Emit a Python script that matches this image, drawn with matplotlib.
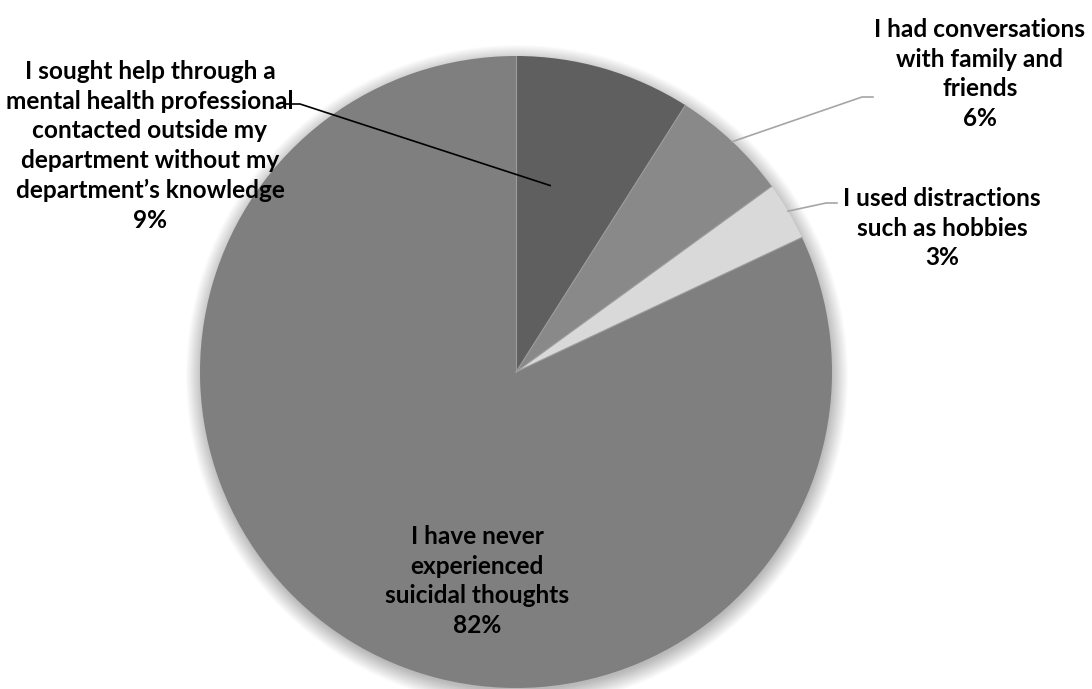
import numpy as np
import matplotlib.pyplot as plt
from matplotlib.patches import Circle

# Survey responses: coping with suicidal thoughts
labels = [
    "I sought help through a\nmental health professional\ncontacted outside my\ndepartment without my\ndepartment\u2019s knowledge",
    "I had conversations\nwith family and\nfriends",
    "I used distractions\nsuch as hobbies",
    "I have never\nexperienced\nsuicidal thoughts",
]
shares = [9, 6, 3, 82]
colors = ["#5f5f5f", "#898989", "#d9d9d9", "#7f7f7f"]

W, H = 1092, 689
cx, cy, R = 516, H - 372, 316

fig = plt.figure(figsize=(W / 100, H / 100), dpi=100)
ax = fig.add_axes([0, 0, 1, 1])

# soft outer shadow, a bit heavier below the pie
for i in range(18):
    ax.add_patch(Circle((cx + 1, cy - 4), R - 2 + i, color="black",
                        alpha=0.016, lw=0, zorder=0))

wedges, _ = ax.pie(shares, colors=colors, startangle=90, counterclock=False,
                   center=(cx, cy), radius=R, frame=True,
                   wedgeprops=dict(linewidth=0))
ax.set_xlim(0, W)
ax.set_ylim(0, H)
ax.set_aspect("equal")
ax.axis("off")

# thin light separators between slices
for w in wedges:
    a = np.deg2rad(w.theta1)
    ax.plot([cx, cx + R * np.cos(a)], [cy, cy + R * np.sin(a)],
            color="#9c9c9c", lw=0.8, zorder=3)

font = dict(family="Lato", weight="bold", fontsize=17.6, color="black",
            ha="center", va="center", linespacing=1.36)


def edge_point(w, frac=0.5, r=1.0):
    ang = np.deg2rad(w.theta1 + frac * (w.theta2 - w.theta1))
    return cx + r * R * np.cos(ang), cy + r * R * np.sin(ang)


# label blocks (x, y in pixels from top)
label_pos = [(150, 146), (980, 74), (942, 228), (477, 581)]
for lab, s, (lx, ly) in zip(labels, shares, label_pos):
    ax.text(lx, H - ly, f"{lab}\n{s}%", zorder=5, **font)

# leader lines
p0 = edge_point(wedges[0], 0.68, 0.6)
ax.plot([286, 300, p0[0]], [H - 104, H - 104, p0[1]], color="black", lw=1.2, zorder=4)

p1 = edge_point(wedges[1], 0.5)
ax.plot([p1[0], 862, 873], [p1[1], H - 97, H - 97], color="#a6a6a6", lw=1.2, zorder=4)

p2 = edge_point(wedges[2], 0.5)
ax.plot([p2[0], 826, 837], [p2[1], H - 203, H - 203], color="#a6a6a6", lw=1.2, zorder=4)

fig.savefig("out.png", dpi=100)
